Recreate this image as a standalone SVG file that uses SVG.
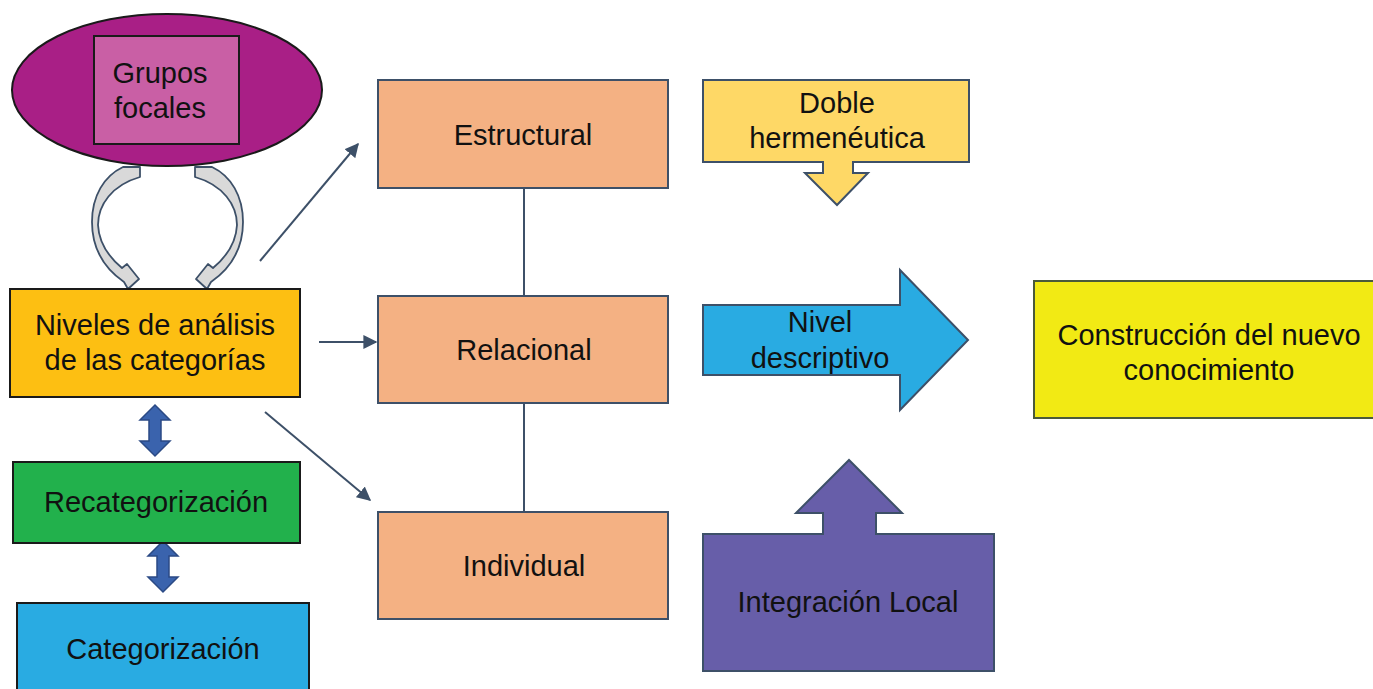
<svg xmlns="http://www.w3.org/2000/svg" width="1373" height="689" viewBox="0 0 1373 689">
<defs>
<style>
text{font-family:"Liberation Sans",Arial,sans-serif;font-size:29px;fill:#111;text-anchor:middle}
.blk{stroke:#1a1a1a;stroke-width:2}
.blu{stroke:#3d5068;stroke-width:2}
.con{stroke:#3d5068;stroke-width:2;fill:none}
.orange{fill:#f4b183}
.dbl{fill:#3a63ad;stroke:#2b4a85;stroke-width:1.5}
.curv{fill:#d9d9d9;stroke:#3d5068;stroke-width:1.8;stroke-linejoin:round}
</style>
<marker id="ah" viewBox="0 0 10 10" refX="9" refY="5" markerWidth="7" markerHeight="7" orient="auto" markerUnits="strokeWidth">
<path d="M0,0 L10,5 L0,10 Z" fill="#3d5068"/>
</marker>
</defs>
<rect width="1373" height="689" fill="#ffffff"/>

<g id="grupos-focales">
<ellipse cx="167" cy="90" rx="155" ry="76" fill="#a91f86" stroke="#1a1a1a" stroke-width="2"/>
<rect x="94" y="36" width="145" height="108" fill="#c95fa5" class="blk"/>
<text x="160" y="83">Grupos</text>
<text x="160" y="118">focales</text>
</g>

<g id="ciclo-flechas">
<path id="curva-izq" class="curv" d="M123,167 L140,167 L140,177 C112,185 98,205 98,225 C99,245 110,258 122,268 L127,264 L139,279 L128,289 L124,282 C101,266 92,246 92,222 C92,196 104,176 123,167 Z"/>
<use href="#curva-izq" transform="translate(335,0) scale(-1,1)"/>
</g>

<g id="niveles">
<rect x="10" y="289" width="290" height="108" fill="#fdbf12" class="blk"/>
<text x="155" y="335">Niveles de análisis</text>
<text x="155" y="370">de las categorías</text>
</g>

<g id="flechas-dobles">
<path class="dbl" d="M155,405 L170,420 L161,420 L161,441 L170,441 L155,456 L140,441 L149,441 L149,420 L140,420 Z"/>
<path class="dbl" d="M163,541 L178,556 L169,556 L169,577 L178,577 L163,592 L148,577 L157,577 L157,556 L148,556 Z"/>
</g>

<g id="recategorizacion">
<rect x="13" y="462" width="287" height="81" fill="#22b14c" class="blk"/>
<text x="156" y="512">Recategorización</text>
</g>

<g id="categorizacion">
<rect x="17" y="603" width="292" height="100" fill="#29abe2" class="blk"/>
<text x="163" y="659">Categorización</text>
</g>

<g id="connectors">
<line x1="260" y1="261" x2="358" y2="144" class="con" marker-end="url(#ah)"/>
<line x1="319" y1="342" x2="376" y2="342" class="con" marker-end="url(#ah)"/>
<line x1="265" y1="412" x2="370" y2="500" class="con" marker-end="url(#ah)"/>
<line x1="524" y1="188" x2="524" y2="296" class="con"/>
<line x1="524" y1="403" x2="524" y2="512" class="con"/>
</g>

<g id="estructural">
<rect x="378" y="80" width="290" height="108" class="orange blu"/>
<text x="523" y="145">Estructural</text>
</g>
<g id="relacional">
<rect x="378" y="296" width="290" height="107" class="orange blu"/>
<text x="524" y="360">Relacional</text>
</g>
<g id="individual">
<rect x="378" y="512" width="290" height="107" class="orange blu"/>
<text x="524" y="576">Individual</text>
</g>

<g id="doble-hermeneutica">
<path d="M703,80 L969,80 L969,162 L853,162 L853,173 L868,173 L837,205 L805,173 L823,173 L823,162 L703,162 Z" fill="#fed866" class="blu"/>
<text x="837" y="113">Doble</text>
<text x="837" y="148">hermenéutica</text>
</g>

<g id="nivel-descriptivo">
<path d="M703,305 L900,305 L900,270 L968,340 L900,410 L900,375 L703,375 Z" fill="#29abe2" class="blu"/>
<text x="820" y="332">Nivel</text>
<text x="820" y="368">descriptivo</text>
</g>

<g id="integracion-local">
<path d="M703,534 L823,534 L823,513 L796,513 L849,460 L902,513 L876,513 L876,534 L994,534 L994,671 L703,671 Z" fill="#675ea9" class="blu"/>
<text x="848" y="612">Integración Local</text>
</g>

<g id="construccion">
<rect x="1034" y="281" width="345" height="137" fill="#f2ea14" stroke="#4a5a3a" stroke-width="2"/>
<text x="1209" y="345">Construcción del nuevo</text>
<text x="1209" y="380">conocimiento</text>
</g>
</svg>
